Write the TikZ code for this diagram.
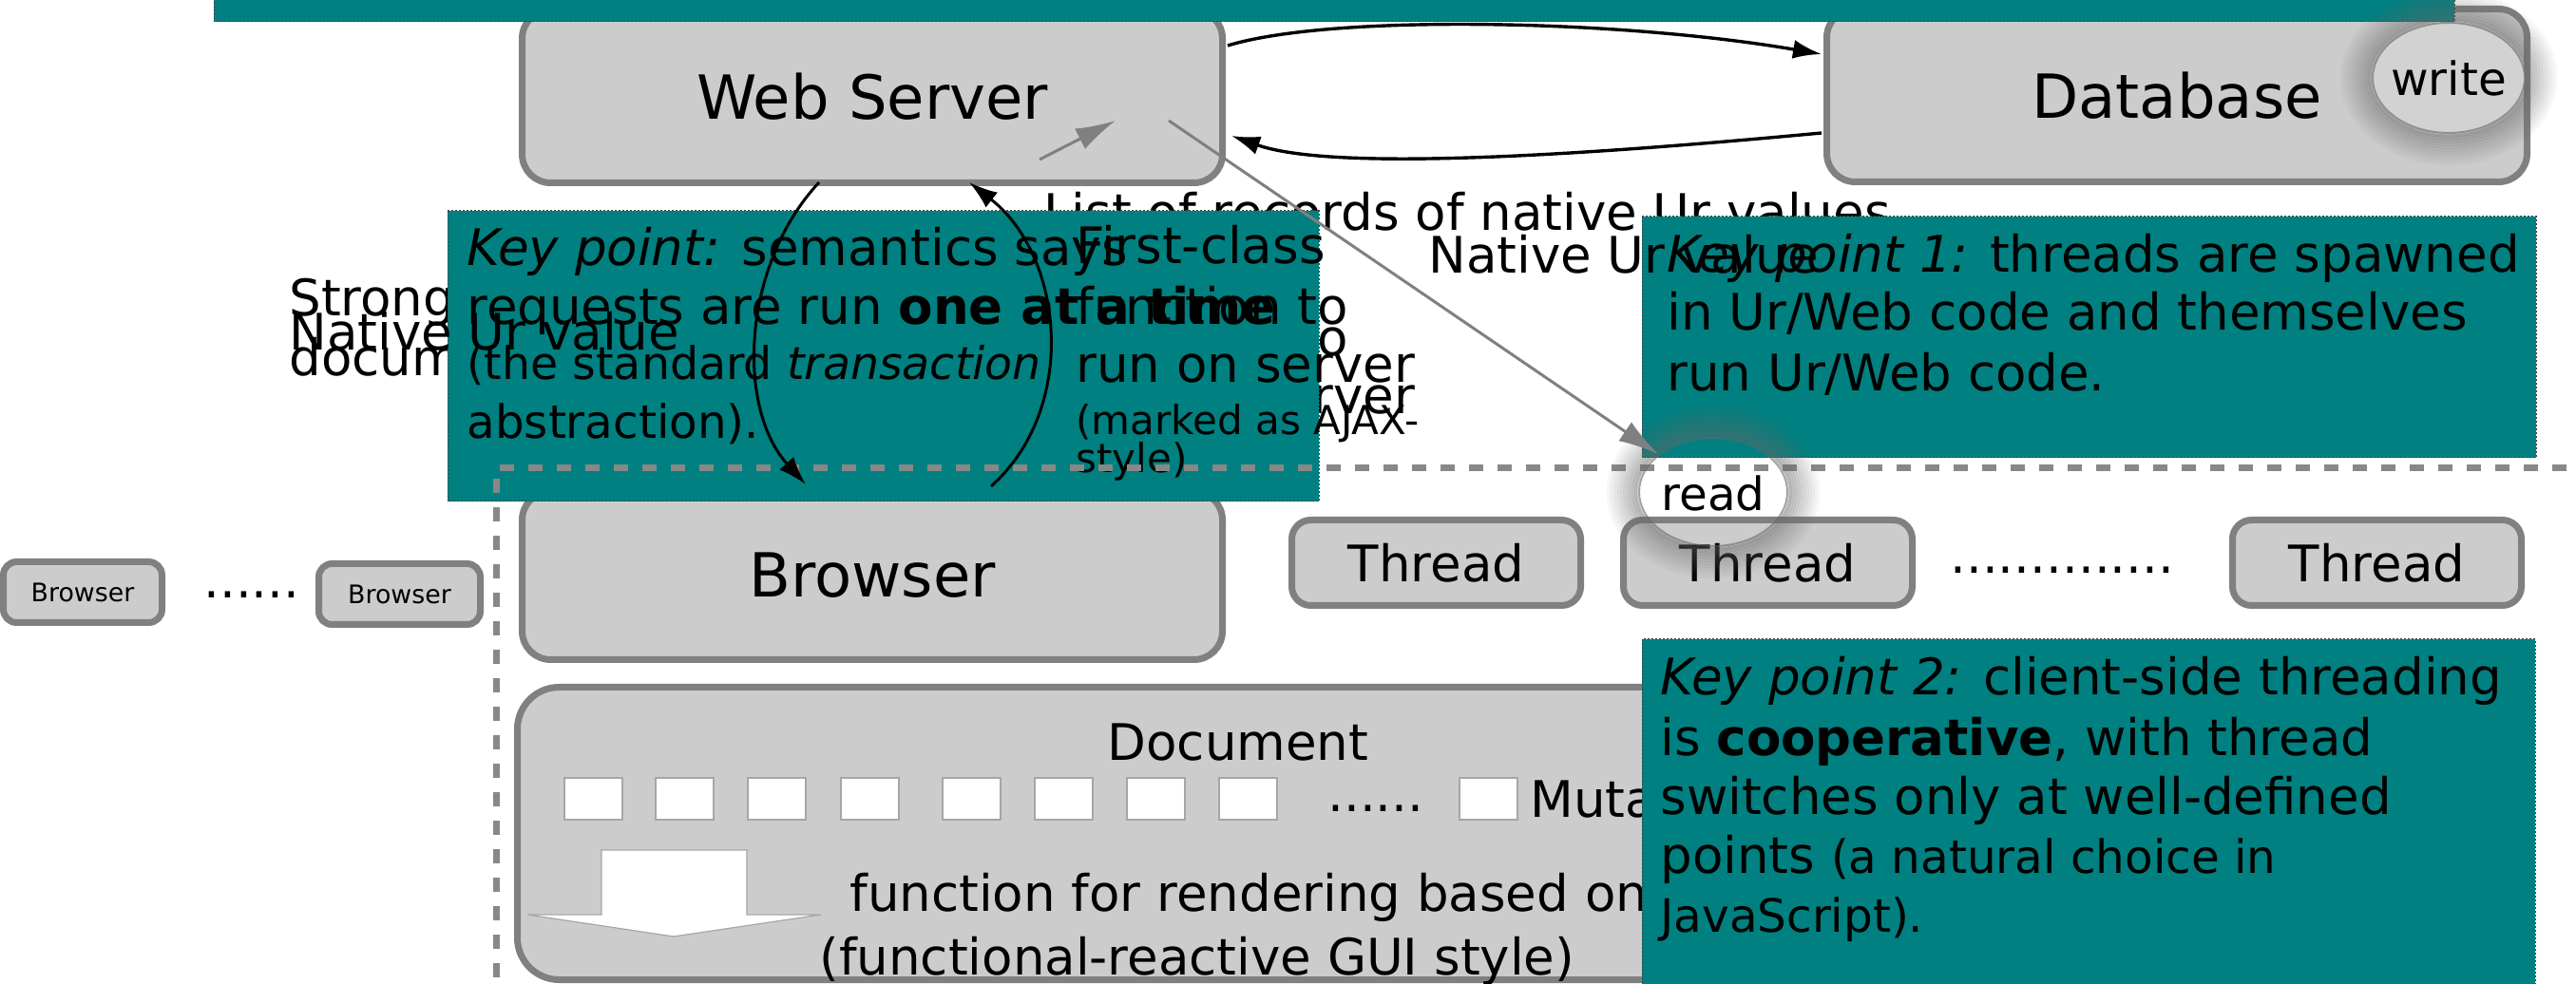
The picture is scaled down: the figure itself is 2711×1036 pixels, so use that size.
\documentclass[tikz,border=0pt]{standalone}
\usepackage{fontspec}
\setmainfont{DejaVu Sans}
\usetikzlibrary{arrows.meta}
\definecolor{tealc}{RGB}{0,128,128}
\definecolor{boxfill}{RGB}{204,204,204}
\definecolor{boxline}{RGB}{128,128,128}
\definecolor{dashc}{RGB}{136,136,136}
\definecolor{wfill}{RGB}{210,210,210}
\newcommand\szBig{\fontsize{32}{38}\selectfont}
\newcommand\szNorm{\fontsize{26.5}{31}\selectfont}
\newcommand\szSm{\fontsize{24.2}{28}\selectfont}
\newcommand\szSmm{\fontsize{23.7}{28}\selectfont}
\newcommand\szAjax{\fontsize{21}{24}\selectfont}
\newcommand\szTiny{\fontsize{13.4}{15}\selectfont}
\begin{document}
\begin{tikzpicture}[x=0.5pt,y=-0.5pt,
  box/.style={draw=boxline, fill=boxfill, line width=3.5pt, rounded corners=15pt, inner sep=0pt},
  bigbox/.style={box, minimum width=368.5pt, font=\szBig},
  thr/.style={box, rounded corners=10pt, minimum width=152pt, minimum height=45pt, font=\szNorm},
  sbr/.style={box, rounded corners=7pt, minimum height=32pt, font=\szTiny},
  tealbox/.style={fill=tealc, draw=black!75, line width=0.5pt, dash pattern=on 1pt off 1pt},
  txt/.style={anchor=base west, inner sep=0pt, font=\szNorm},
  conn/.style={-{Latex[length=15pt,width=10pt]}, line width=1.7pt},
  gconn/.style={draw=gray, -{Latex[length=21pt,width=12pt]}, line width=1.5pt},
  sq/.style={fill=white, draw=gray!70, line width=0.6pt},
  dashln/.style={draw=dashc, line width=3.5pt, dash pattern=on 7.5pt off 7.5pt},
  haloring/.style={black!60, line width=1.6pt}
]
\useasboundingbox (0,0) rectangle (2711,1036);

% top boxes
\node[bigbox, minimum height=91pt] (ws) at (918,101.5) {Web Server};
\node[bigbox, minimum height=91pt] (db) at (2291,100.5) {Database};

% top teal bar
\path[tealbox] (225,-10) rectangle (2583,23);

% web server <-> database
\coordinate (wsA) at (1292,48);
\coordinate (dbA) at (1917,57);
\coordinate (dbB) at (1917,140);
\coordinate (wsB) at (1296,143);
\draw[conn] (wsA) .. controls (1400,15) and (1700,20) .. (dbA);
\draw[conn] (dbB) .. controls (1650,165) and (1400,180) .. (wsB);

% write ellipse with halo
\fill[wfill] (2577,82) ellipse [x radius=80, y radius=58];
\foreach \k in {1,...,11}{
  \pgfmathsetmacro\op{0.042*(12-\k)}
  \draw[haloring, opacity=\op] (2577,82) ellipse [x radius={80+3*\k}, y radius={58+3*\k}];
}
\draw[black!60, line width=1pt, opacity=0.6] (2577,82) ellipse [x radius=80, y radius=58];
\node[inner sep=0pt, font=\szSm] (wr) at (2577,82) {write};

% texts behind the key-point boxes
\node[txt] (lst) at (1098,243) {List of records of native Ur values};
\node[txt] (strg) at (304,333) {Strong};
\node[txt] (docm) at (304,396) {docum};
\node[txt] (hfa) at (1132,375) {function to};
\node[txt] (hfb) at (1132,436) {run on server};

% browser boxes
\node[bigbox, minimum height=88.5pt] (br) at (918,606) {Browser};
\node[sbr, minimum width=83.5pt] (br1) at (87,623.5) {Browser};
\node[sbr, minimum width=85pt] (br2) at (420.5,625.5) {Browser};
\node[txt] (bdots) at (214,630) {......};

% key point box 1
\path[tealbox] (471,222) rectangle (1388,528);
\node[txt] (k1a) at (491,280) {\textit{Key point:} semantics says};
\node[txt] (k1b) at (491,342) {requests are run \textbf{one at a time}};
\node[txt, font=\szSmm] (k1c) at (491,400) {(the standard \textit{transaction}};
\node[txt, font=\szSm] (k1d) at (491,462) {abstraction).};

\node[txt] (nuv1) at (304,369) {Native Ur value};
\node[txt] (fca) at (1132,278) {First-class};
\node[txt] (fcb) at (1132,342) {function to};
\node[txt] (fcc) at (1132,403) {run on server};
\node[txt, font=\szAjax] (fcd) at (1132,458) {(marked as AJAX-};
\node[txt, font=\szAjax] (fce) at (1132,498) {style)};

% read ellipse fill (partly under key point box 2)
\fill[white] (1803,518) ellipse [x radius=78, y radius=57];

% key point box 2
\path[tealbox] (1728,228) rectangle (2669,482);
\node[txt] (k2a) at (1754,287) {\textit{Key point 1:} threads are spawned};
\node[txt] (k2b) at (1754,348) {in Ur/Web code and themselves};
\node[txt] (k2c) at (1754,412) {run Ur/Web code.};
\node[txt] (nuv2) at (1503,288) {Native Ur value};

% dashed separator
\coordinate (dh0) at (526,493);
\coordinate (dh1) at (2720,493);
\coordinate (dv0) at (522,504);
\coordinate (dv1) at (522,1045);
\draw[dashln] (dh0) -- (dh1);
\draw[dashln] (dv0) -- (dv1);

% threads
\node[thr] (th1) at (1511.5,592.5) {Thread};
\node[thr] (th2) at (1860.5,592.5) {Thread};
\node[thr] (th3) at (2501.5,592.5) {Thread};
\node[txt] (tdots) at (2052,604) {..............};

% read halo
\foreach \k in {1,...,11}{
  \pgfmathsetmacro\op{0.042*(12-\k)}
  \draw[haloring, opacity=\op] (1803,518) ellipse [x radius={78+3*\k}, y radius={57+3*\k}];
}
\draw[black!60, line width=1pt, opacity=0.6] (1803,518) ellipse [x radius=78, y radius=57];
\node[inner sep=0pt, font=\szSm] (rd) at (1803,519) {read};

% browser <-> web server arrows
\coordinate (wsC) at (862,192);
\coordinate (brC) at (848,510);
\coordinate (brD) at (1043,512);
\coordinate (wsD) at (1020,192);
\draw[conn, line width=1.5pt] (wsC) .. controls (780,280) and (775,430) .. (brC);
\draw[conn, line width=1.5pt] (brD) .. controls (1135,430) and (1120,270) .. (wsD);

% gray arrows
\coordinate (gA) at (1230,127);
\coordinate (gB) at (1745,478);
\coordinate (gC) at (1094,168);
\coordinate (gD) at (1174,127);
\draw[gconn] (gA) -- (gB);
\draw[gconn] (gC) -- (gD);

% document box
\node[box, rounded corners=22pt, minimum width=1056pt, minimum height=154pt] (docbox) at (1600.5,877.5) {};
\node[anchor=base, inner sep=0pt, font=\szNorm] (doct) at (1303,801) {Document};
\foreach \xx in {594,690,787,885,992,1089,1186,1283,1536}{
  \path[sq] (\xx,819) rectangle ++(61,44);
}
\node[txt] (ddots) at (1397,855) {......};
\node[txt] (muta) at (1610,861) {Muta};
\path[fill=white, draw=gray!70, line width=0.6pt] (633,895) -- (786,895) -- (786,963) -- (864,963) -- (709,986) -- (555,963) -- (633,963) -- cycle;
\node[txt] (fr1) at (894,960) {function for rendering based on};
\node[txt] (fr2) at (862,1027) {(functional-reactive GUI style)};

% key point box 3
\path[tealbox] (1728,673) rectangle (2668,1045);
\node[txt] (k3a) at (1747,732) {\textit{Key point 2:} client-side threading};
\node[txt] (k3b) at (1747,796) {is \textbf{cooperative}, with thread};
\node[txt] (k3c) at (1747,858) {switches only at well-defined};
\node[txt] (k3d) at (1747,920) {points {\szSm (a natural choice in}};
\node[txt, font=\szSm] (k3e) at (1747,982) {JavaScript).};
\end{tikzpicture}
\end{document}
